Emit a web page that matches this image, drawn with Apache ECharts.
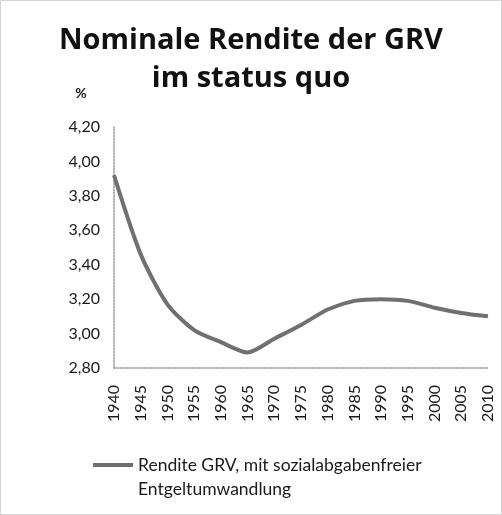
<!DOCTYPE html>
<html lang="de">
<head>
    <meta charset="UTF-8">
    <script src="https://cdn.jsdelivr.net/npm/echarts@6/dist/echarts.min.js"></script>
    <title>Nominale Rendite der GRV</title>
</head>
<body style="margin:0">
    <div id="rendite" style="width: 502px;height:515px;"></div>
</body>
<script type="text/javascript">
    // Jahre und Werte
    var jahre = ['1940','1945','1950','1955','1960','1965','1970','1975','1980','1985','1990','1995','2000','2005','2010'];
    var rendite = [3.92, 3.46, 3.17, 3.02, 2.95, 2.89, 2.97, 3.05, 3.14, 3.19, 3.20, 3.19, 3.15, 3.12, 3.10];
    var serienName = 'Rendite GRV, mit sozialabgabenfreier\nEntgeltumwandlung';

    var chart = echarts.init(document.getElementById('rendite'));
    chart.setOption({
        animation: false,
        backgroundColor: '#fff',
        textStyle: {fontFamily: 'Lato'},
        title: {
            text: 'Nominale Rendite der GRV\nim status quo',
            left: 'center',
            top: 22,
            padding: 0,
            textStyle: {
                fontFamily: 'Open Sans',
                fontSize: 29,
                fontWeight: 'bold',
                lineHeight: 38,
                color: '#111'
            }
        },
        graphic: [{
            type: 'rect',
            shape: {x: 0.5, y: 0.5, width: 501, height: 514},
            style: {fill: 'none', stroke: '#aaa', lineWidth: 1, lineDash: [1, 1]}
        }],
        grid: {left: 114, right: 14, top: 127, bottom: 147},
        xAxis: {
            type: 'category',
            data: jahre,
            boundaryGap: false,
            axisLine: {lineStyle: {color: '#999', width: 1.5, type: 'dotted'}},
            axisTick: {show: false},
            axisLabel: {rotate: 90, fontSize: 16, color: '#1a1a1a', margin: 17}
        },
        yAxis: {
            type: 'value',
            min: 2.8,
            max: 4.2,
            interval: 0.2,
            name: '%',
            nameLocation: 'end',
            nameGap: 27,
            nameTextStyle: {fontSize: 14, fontWeight: 'bold', color: '#1a1a1a', padding: [0, 66, 0, 0]},
            axisLine: {show: true, lineStyle: {color: '#999', width: 1.5, type: 'dotted'}},
            axisTick: {show: false},
            splitLine: {show: false},
            axisLabel: {
                fontSize: 16,
                color: '#1a1a1a',
                margin: 14,
                formatter: function (v) { return v.toFixed(2).replace('.', ','); }
            }
        },
        legend: {
            left: 93,
            top: 429,
            padding: 0,
            itemWidth: 40,
            itemHeight: 4,
            icon: 'rect',
            data: [serienName],
            // leere erste Zeile, damit die erste Textzeile auf Höhe der Linie steht
            formatter: function (n) { return ' \n' + n; },
            textStyle: {fontSize: 17.5, color: '#1a1a1a', lineHeight: 24}
        },
        series: [{
            name: serienName,
            type: 'line',
            data: rendite,
            smooth: 0.25,
            showSymbol: false,
            lineStyle: {color: '#707070', width: 4},
            itemStyle: {color: '#707070'}
        }]
    });
</script>
</html>
